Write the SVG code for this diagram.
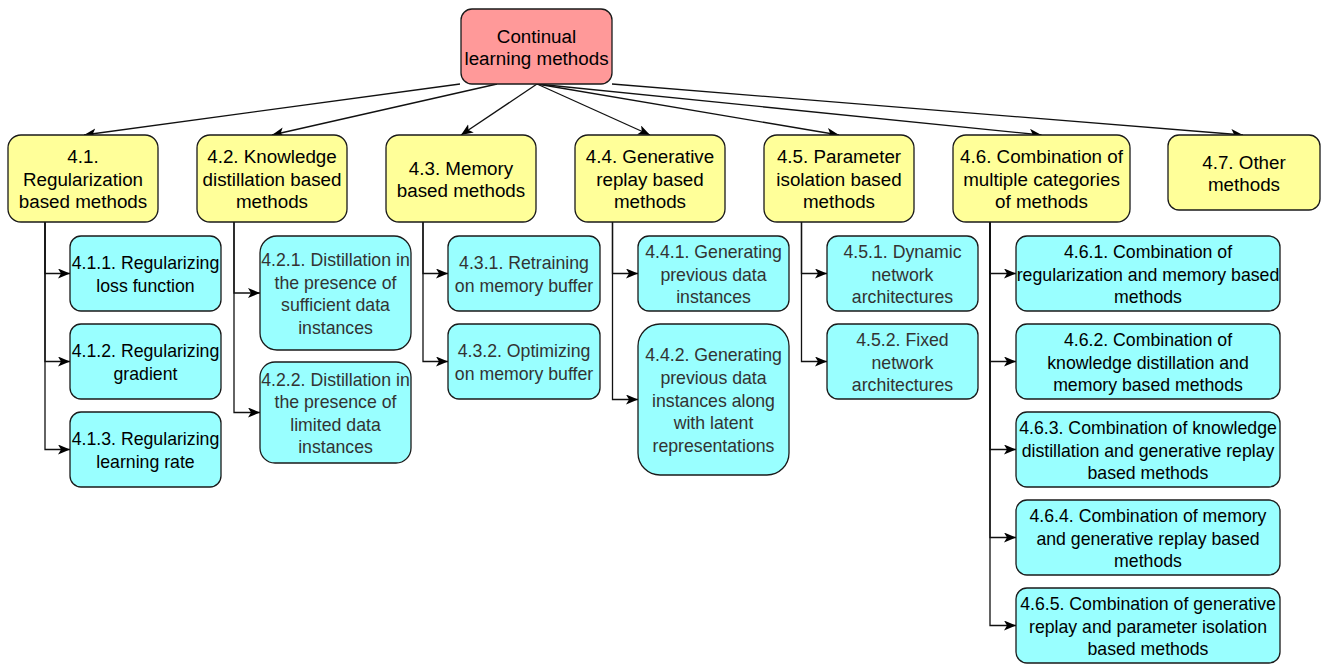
<svg xmlns="http://www.w3.org/2000/svg" width="1325" height="664" viewBox="0 0 1325 664">
<style>
rect{stroke:#1a1a1a;stroke-width:1.3}
.root{fill:#FF9999}
.cat{fill:#FFFF99}
.sub{fill:#99FFFF}
text{font-family:"Liberation Sans",Arial,sans-serif;text-anchor:middle;fill:#000}
.t1{font-size:18.8px}
.t2{font-size:17.7px}
.g{fill:#333333}
#connectors path{fill:none;stroke:#111;stroke-width:1.3;marker-end:url(#arr)}
</style>
<defs>
<marker id="arr" markerUnits="userSpaceOnUse" markerWidth="14" markerHeight="12" refX="12" refY="5" orient="auto">
<path d="M0,0 L12,5 L0,10 L3,5 Z" fill="#000"/>
</marker>
</defs>
<rect x="0" y="0" width="1325" height="664" fill="#fff" style="stroke:none"/>
<g id="connectors">
<path d="M460,84 L84,135"/>
<path d="M497,84 L272,135"/>
<path d="M537,84 L461,135"/>
<path d="M537,84 L650,135"/>
<path d="M537,84 L839,135"/>
<path d="M537,84 L1041.5,135"/>
<path d="M612,84 L1243,135"/>
<path d="M45,222 V273.5 H70"/>
<path d="M45,222 V361.5 H70"/>
<path d="M45,222 V449.5 H70"/>
<path d="M234,222 V293 H260"/>
<path d="M234,222 V412.5 H260"/>
<path d="M423,222 V273.5 H448"/>
<path d="M423,222 V361.5 H448"/>
<path d="M612.5,222 V273.5 H638"/>
<path d="M612.5,222 V399.5 H638"/>
<path d="M801.5,222 V273.5 H827"/>
<path d="M801.5,222 V361.5 H827"/>
<path d="M990,222 V273.5 H1016"/>
<path d="M990,222 V361.5 H1016"/>
<path d="M990,222 V449.5 H1016"/>
<path d="M990,222 V537.5 H1016"/>
<path d="M990,222 V625.5 H1016"/>
</g>
<g id="root">
<rect class="root" x="461" y="9" width="151" height="75" rx="11"/>
<text class="t1"><tspan x="536.5" y="42.5">Continual</tspan><tspan x="536.5" y="65.1">learning methods</tspan></text>
</g>
<g id="n41">
<rect class="cat" x="8" y="135" width="150" height="87" rx="13"/>
<text class="t1"><tspan x="83" y="163.3">4.1.</tspan><tspan x="83" y="185.8">Regularization</tspan><tspan x="83" y="208.4">based methods</tspan></text>
</g>
<g id="n42">
<rect class="cat" x="197" y="135" width="150" height="87" rx="13"/>
<text class="t1"><tspan x="272" y="163.3">4.2. Knowledge</tspan><tspan x="272" y="185.8">distillation based</tspan><tspan x="272" y="208.4">methods</tspan></text>
</g>
<g id="n43">
<rect class="cat" x="386" y="135" width="150" height="87" rx="13"/>
<text class="t1"><tspan x="461" y="174.5">4.3. Memory</tspan><tspan x="461" y="197.1">based methods</tspan></text>
</g>
<g id="n44">
<rect class="cat" x="575" y="135" width="150" height="87" rx="13"/>
<text class="t1"><tspan x="650" y="163.3">4.4. Generative</tspan><tspan x="650" y="185.8">replay based</tspan><tspan x="650" y="208.4">methods</tspan></text>
</g>
<g id="n45">
<rect class="cat" x="764" y="135" width="150" height="87" rx="13"/>
<text class="t1"><tspan x="839" y="163.3">4.5. Parameter</tspan><tspan x="839" y="185.8">isolation based</tspan><tspan x="839" y="208.4">methods</tspan></text>
</g>
<g id="n46">
<rect class="cat" x="953" y="135" width="177" height="87" rx="13"/>
<text class="t1"><tspan x="1041.5" y="163.3">4.6. Combination of</tspan><tspan x="1041.5" y="185.8">multiple categories</tspan><tspan x="1041.5" y="208.4">of methods</tspan></text>
</g>
<g id="n47">
<rect class="cat" x="1168" y="135" width="152" height="75" rx="11"/>
<text class="t1"><tspan x="1244" y="168.5">4.7. Other</tspan><tspan x="1244" y="191.1">methods</tspan></text>
</g>
<g id="n411">
<rect class="sub" x="70" y="236" width="151" height="75" rx="11"/>
<text class="t2"><tspan x="145.5" y="269.2">4.1.1. Regularizing</tspan><tspan x="145.5" y="291.8">loss function</tspan></text>
</g>
<g id="n412">
<rect class="sub" x="70" y="324" width="151" height="75" rx="11"/>
<text class="t2"><tspan x="145.5" y="357.2">4.1.2. Regularizing</tspan><tspan x="145.5" y="379.8">gradient</tspan></text>
</g>
<g id="n413">
<rect class="sub" x="70" y="412" width="151" height="75" rx="11"/>
<text class="t2"><tspan x="145.5" y="445.2">4.1.3. Regularizing</tspan><tspan x="145.5" y="467.8">learning rate</tspan></text>
</g>
<g id="n421">
<rect class="sub" x="260" y="236" width="151" height="114" rx="17"/>
<text class="t2 g"><tspan x="335.5" y="266.1">4.2.1. Distillation in</tspan><tspan x="335.5" y="288.7">the presence of</tspan><tspan x="335.5" y="311.3">sufficient data</tspan><tspan x="335.5" y="333.9">instances</tspan></text>
</g>
<g id="n422">
<rect class="sub" x="260" y="362" width="151" height="101" rx="15"/>
<text class="t2 g"><tspan x="335.5" y="385.6">4.2.2. Distillation in</tspan><tspan x="335.5" y="408.2">the presence of</tspan><tspan x="335.5" y="430.8">limited data</tspan><tspan x="335.5" y="453.4">instances</tspan></text>
</g>
<g id="n431">
<rect class="sub" x="448" y="236" width="152" height="75" rx="11"/>
<text class="t2 g"><tspan x="524" y="269.2">4.3.1. Retraining</tspan><tspan x="524" y="291.8">on memory buffer</tspan></text>
</g>
<g id="n432">
<rect class="sub" x="448" y="324" width="152" height="75" rx="11"/>
<text class="t2 g"><tspan x="524" y="357.2">4.3.2. Optimizing</tspan><tspan x="524" y="379.8">on memory buffer</tspan></text>
</g>
<g id="n441">
<rect class="sub" x="638" y="236" width="151" height="75" rx="11"/>
<text class="t2 g"><tspan x="713.5" y="257.9">4.4.1. Generating</tspan><tspan x="713.5" y="280.5">previous data</tspan><tspan x="713.5" y="303.1">instances</tspan></text>
</g>
<g id="n442">
<rect class="sub" x="638" y="324" width="151" height="151" rx="22"/>
<text class="t2 g"><tspan x="713.5" y="361.3">4.4.2. Generating</tspan><tspan x="713.5" y="383.9">previous data</tspan><tspan x="713.5" y="406.5">instances along</tspan><tspan x="713.5" y="429.1">with latent</tspan><tspan x="713.5" y="451.7">representations</tspan></text>
</g>
<g id="n451">
<rect class="sub" x="827" y="236" width="151" height="75" rx="11"/>
<text class="t2 g"><tspan x="902.5" y="257.9">4.5.1. Dynamic</tspan><tspan x="902.5" y="280.5">network</tspan><tspan x="902.5" y="303.1">architectures</tspan></text>
</g>
<g id="n452">
<rect class="sub" x="827" y="324" width="151" height="75" rx="11"/>
<text class="t2 g"><tspan x="902.5" y="345.9">4.5.2. Fixed</tspan><tspan x="902.5" y="368.5">network</tspan><tspan x="902.5" y="391.1">architectures</tspan></text>
</g>
<g id="n461">
<rect class="sub" x="1016" y="236" width="264" height="75" rx="11"/>
<text class="t2"><tspan x="1148" y="257.9">4.6.1. Combination of</tspan><tspan x="1148" y="280.5">regularization and memory based</tspan><tspan x="1148" y="303.1">methods</tspan></text>
</g>
<g id="n462">
<rect class="sub" x="1016" y="324" width="264" height="75" rx="11"/>
<text class="t2"><tspan x="1148" y="345.9">4.6.2. Combination of</tspan><tspan x="1148" y="368.5">knowledge distillation and</tspan><tspan x="1148" y="391.1">memory based methods</tspan></text>
</g>
<g id="n463">
<rect class="sub" x="1016" y="412" width="264" height="75" rx="11"/>
<text class="t2"><tspan x="1148" y="433.9">4.6.3. Combination of knowledge</tspan><tspan x="1148" y="456.5">distillation and generative replay</tspan><tspan x="1148" y="479.1">based methods</tspan></text>
</g>
<g id="n464">
<rect class="sub" x="1016" y="500" width="264" height="75" rx="11"/>
<text class="t2"><tspan x="1148" y="521.9">4.6.4. Combination of memory</tspan><tspan x="1148" y="544.5">and generative replay based</tspan><tspan x="1148" y="567.1">methods</tspan></text>
</g>
<g id="n465">
<rect class="sub" x="1016" y="588" width="264" height="75" rx="11"/>
<text class="t2"><tspan x="1148" y="609.9">4.6.5. Combination of generative</tspan><tspan x="1148" y="632.5">replay and parameter isolation</tspan><tspan x="1148" y="655.1">based methods</tspan></text>
</g>
</svg>
